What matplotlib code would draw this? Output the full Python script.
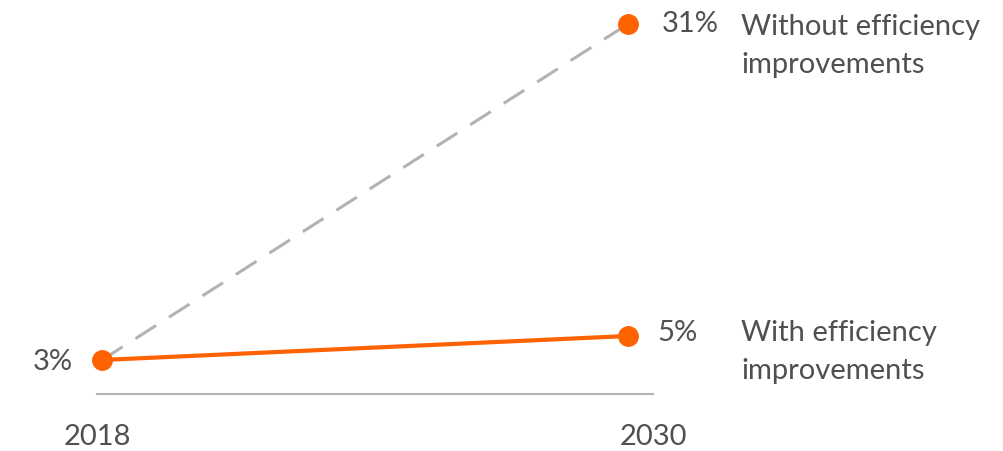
"""Share of electricity: with vs without efficiency improvements, 2018 -> 2030."""
import matplotlib
matplotlib.use("Agg")
import matplotlib.pyplot as plt

plt.rcParams["font.family"] = ["Lato", "DejaVu Sans"]

years = [2018, 2030]
with_eff = [3, 5]
without_eff = [3, 31]
year_labels = ["2018", "2030"]
series_names = ["With efficiency\nimprovements", "Without efficiency\nimprovements"]

ORANGE = "#ff6200"
DASH = "#b3b3b3"
INK = "#505050"
BASE = "#b5b5b5"

fig = plt.figure(figsize=(10.04, 4.51), dpi=100, facecolor="white")
ax = fig.add_axes([0, 0, 1, 1])
ax.set_xlim(2015.673, 2038.58)
ax.set_ylim(-4.583, 33)
ax.axis("off")

# dashed scenario underneath, then the solid one
ax.plot(years, without_eff, color=DASH, linewidth=2.2, dashes=(8, 5), zorder=2)
ax.plot(years, with_eff, color=ORANGE, linewidth=3.0, solid_capstyle="round", zorder=3)
ax.plot(years, with_eff, "o", color=ORANGE, markersize=14, zorder=4)
ax.plot(years[-1], without_eff[-1], "o", color=ORANGE, markersize=14, zorder=4)

fs = 21
# value labels
ax.annotate(f"{with_eff[0]}%", (years[0], with_eff[0]), xytext=(-29, -2),
            textcoords="offset pixels", ha="right", va="center", color=INK, fontsize=fs)
ax.annotate(f"{with_eff[1]}%", (years[1], with_eff[1]), xytext=(29, 3),
            textcoords="offset pixels", ha="left", va="center", color=INK, fontsize=fs)
ax.annotate(f"{without_eff[1]}%", (years[1], without_eff[1]), xytext=(34, 0),
            textcoords="offset pixels", ha="left", va="center", color=INK, fontsize=fs)

# series names
ax.annotate(series_names[1], (years[1], without_eff[1]), xytext=(113, 10),
            textcoords="offset pixels", ha="left", va="top", color=INK, fontsize=fs,
            linespacing=1.55)
ax.annotate(series_names[0], (years[1], with_eff[1]), xytext=(113, 16),
            textcoords="offset pixels", ha="left", va="top", color=INK, fontsize=fs,
            linespacing=1.55)

# baseline and year labels
base_y = 0.167
x0, x1 = years[0] - 0.11, years[1] + 0.57
ax.plot([x0, x1], [base_y, base_y], color=BASE, linewidth=1.5, zorder=1)
for xv, lab in zip([x0, x1], year_labels):
    ax.annotate(lab, (xv, base_y), xytext=(0, -43), textcoords="offset pixels",
                ha="center", va="center", color=INK, fontsize=fs)

fig.savefig("out.png", dpi=100, facecolor="white")
